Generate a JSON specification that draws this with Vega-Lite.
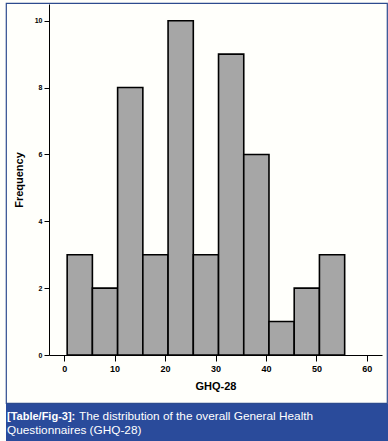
{
  "$schema": "https://vega.github.io/schema/vega-lite/v6.json",
  "background": "#fffffb",
  "padding": {"left": 5, "top": 2, "right": 0, "bottom": 0},
  "spacing": 0,
  "config": {"view": {"stroke": null}, "font": "Liberation Sans"},
  "vconcat": [
    {
      "width": 381,
      "height": 400,
      "view": {"stroke": "#2d4b8e", "strokeWidth": 1.2},
      "data": {
        "values": [
          {"start": 0.6, "end": 5.6, "count": 3},
          {"start": 5.6, "end": 10.6, "count": 2},
          {"start": 10.6, "end": 15.6, "count": 8},
          {"start": 15.6, "end": 20.6, "count": 3},
          {"start": 20.6, "end": 25.6, "count": 10},
          {"start": 25.6, "end": 30.6, "count": 3},
          {"start": 30.6, "end": 35.6, "count": 9},
          {"start": 35.6, "end": 40.6, "count": 6},
          {"start": 40.6, "end": 45.6, "count": 1},
          {"start": 45.6, "end": 50.6, "count": 2},
          {"start": 50.6, "end": 55.6, "count": 3}
        ]
      },
      "mark": {"type": "bar", "fill": "#a6a6a6", "stroke": "#000000", "strokeWidth": 1.6},
      "encoding": {
        "x": {
          "field": "start",
          "type": "quantitative",
          "scale": {"domain": [-3, 63], "range": [43, 376], "nice": false, "zero": false},
          "axis": {
            "values": [0, 10, 20, 30, 40, 50, 60],
            "offset": -48,
            "title": "GHQ-28",
            "titleFontSize": 11,
            "titleFontWeight": "bold",
            "titleColor": "#000000",
            "titlePadding": 7,
            "labelFontSize": 9,
            "labelFontWeight": "bold",
            "labelColor": "#000000",
            "labelPadding": 3,
            "labelFlush": false,
            "labelOverlap": false,
            "tickSize": 6,
            "tickColor": "#000000",
            "domainColor": "#000000",
            "grid": false
          }
        },
        "x2": {"field": "end"},
        "y": {
          "field": "count",
          "type": "quantitative",
          "scale": {"domain": [0, 10.5], "range": [352, 1], "nice": false},
          "axis": {
            "values": [0, 2, 4, 6, 8, 10],
            "offset": -43,
            "title": "Frequency",
            "titleFontSize": 11,
            "titleFontWeight": "bold",
            "titleColor": "#000000",
            "titlePadding": 10,
            "labelFontSize": 7,
            "labelFontWeight": "bold",
            "labelColor": "#000000",
            "labelPadding": 2,
            "labelFlush": false,
            "labelOverlap": false,
            "tickSize": 5,
            "tickColor": "#000000",
            "domainColor": "#000000",
            "grid": false
          }
        },
        "y2": {"datum": 0}
      }
    },
    {
      "width": 383,
      "height": 39,
      "view": {"fill": "#2a4b9b", "stroke": null},
      "data": {
        "values": [
          {"line": 1, "part": "bold", "text": "[Table/Fig-3]:"},
          {"line": 1, "part": "regular", "text": "The distribution of the overall General Health"},
          {"line": 2, "part": "regular2", "text": "Questionnaires (GHQ-28)"}
        ]
      },
      "encoding": {
        "y": {"field": "line", "type": "ordinal", "scale": {"type": "point", "range": [16, 30], "padding": 0}, "axis": null},
        "text": {"field": "text"}
      },
      "layer": [
        {
          "transform": [{"filter": "datum.part === 'bold'"}],
          "mark": {"type": "text", "align": "left", "baseline": "alphabetic", "fontSize": 11, "fontWeight": "bold", "color": "#ffffff"},
          "encoding": {"x": {"value": 1}}
        },
        {
          "transform": [{"filter": "datum.part === 'regular'"}],
          "mark": {"type": "text", "align": "left", "baseline": "alphabetic", "fontSize": 11.8, "color": "#ffffff"},
          "encoding": {"x": {"value": 73}}
        },
        {
          "transform": [{"filter": "datum.part === 'regular2'"}],
          "mark": {"type": "text", "align": "left", "baseline": "alphabetic", "fontSize": 11.8, "color": "#ffffff"},
          "encoding": {"x": {"value": 1}}
        }
      ]
    }
  ]
}
